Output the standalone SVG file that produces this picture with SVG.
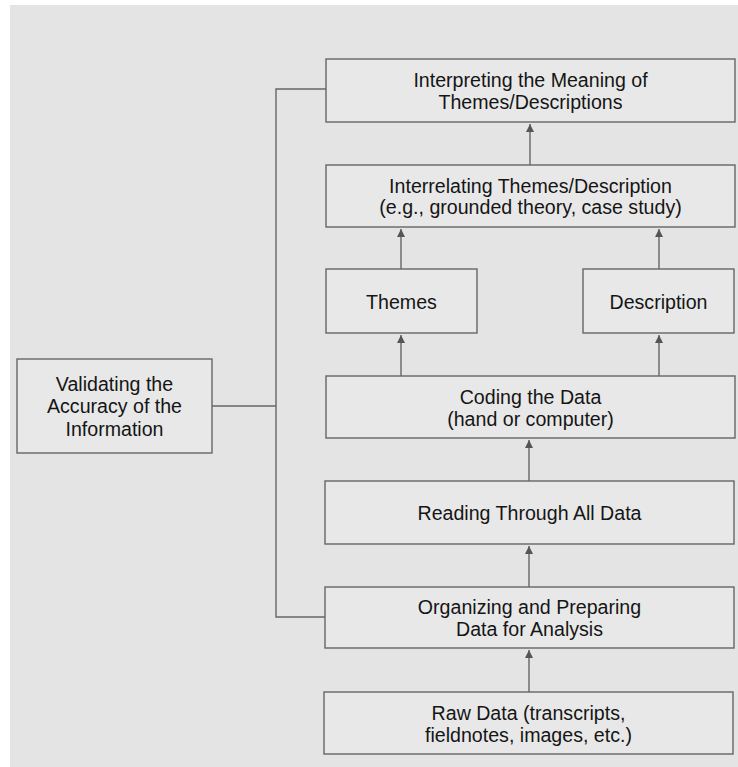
<svg xmlns="http://www.w3.org/2000/svg" width="738" height="767" viewBox="0 0 738 767">
  <style>
    .box { fill: #e8e8e8; stroke: #666666; stroke-width: 1.4; }
    .lbl { font-family: "Liberation Sans", Arial, sans-serif; font-size: 19.6px; fill: #151515; text-anchor: middle; }
    .conn { stroke: #666666; stroke-width: 1.4; fill: none; }
  </style>
  <defs>
    <marker id="arr" markerUnits="userSpaceOnUse" markerWidth="8" markerHeight="8" refX="8" refY="4" orient="auto">
      <path d="M0,0 L8,4 L0,8 z" fill="#555555"/>
    </marker>
  </defs>
  <rect x="0" y="0" width="738" height="767" fill="#ffffff"/>
  <rect x="10" y="5" width="728" height="762" fill="#e4e4e4"/>

  <g id="connectors">
    <polyline class="conn" points="326,89 276,89 276,617 325,617"/>
    <line class="conn" x1="212" y1="406" x2="276" y2="406"/>
    <line class="conn" x1="530" y1="165" x2="530" y2="124" marker-end="url(#arr)"/>
    <line class="conn" x1="401" y1="269" x2="401" y2="229" marker-end="url(#arr)"/>
    <line class="conn" x1="659" y1="269" x2="659" y2="229" marker-end="url(#arr)"/>
    <line class="conn" x1="401" y1="376" x2="401" y2="335" marker-end="url(#arr)"/>
    <line class="conn" x1="659" y1="376" x2="659" y2="335" marker-end="url(#arr)"/>
    <line class="conn" x1="529" y1="481" x2="529" y2="440" marker-end="url(#arr)"/>
    <line class="conn" x1="529" y1="587" x2="529" y2="546" marker-end="url(#arr)"/>
    <line class="conn" x1="529" y1="692" x2="529" y2="650" marker-end="url(#arr)"/>
  </g>

  <g id="interpreting">
    <rect class="box" x="326" y="59" width="409" height="63"/>
    <text class="lbl" x="530.5" y="86.5">Interpreting the Meaning of</text>
    <text class="lbl" x="530.5" y="108.5">Themes/Descriptions</text>
  </g>
  <g id="interrelating">
    <rect class="box" x="326" y="165" width="409" height="62"/>
    <text class="lbl" x="530.5" y="193">Interrelating Themes/Description</text>
    <text class="lbl" x="530.5" y="214">(e.g., grounded theory, case study)</text>
  </g>
  <g id="themes">
    <rect class="box" x="326" y="269" width="151" height="64"/>
    <text class="lbl" x="401.5" y="308.5">Themes</text>
  </g>
  <g id="description">
    <rect class="box" x="583" y="269" width="151" height="64"/>
    <text class="lbl" x="658.5" y="308.5">Description</text>
  </g>
  <g id="coding">
    <rect class="box" x="326" y="376" width="409" height="62"/>
    <text class="lbl" x="530.5" y="403.5">Coding the Data</text>
    <text class="lbl" x="530.5" y="425.5">(hand or computer)</text>
  </g>
  <g id="reading">
    <rect class="box" x="325" y="481" width="409" height="63"/>
    <text class="lbl" x="529.5" y="520">Reading Through All Data</text>
  </g>
  <g id="organizing">
    <rect class="box" x="325" y="587" width="409" height="61"/>
    <text class="lbl" x="529.5" y="614">Organizing and Preparing</text>
    <text class="lbl" x="529.5" y="636">Data for Analysis</text>
  </g>
  <g id="rawdata">
    <rect class="box" x="324" y="692" width="409" height="62"/>
    <text class="lbl" x="528.5" y="720">Raw Data (transcripts,</text>
    <text class="lbl" x="528.5" y="741.5">fieldnotes, images, etc.)</text>
  </g>
  <g id="validating">
    <rect class="box" x="17" y="359" width="195" height="94"/>
    <text class="lbl" x="114.5" y="391">Validating the</text>
    <text class="lbl" x="114.5" y="413.3">Accuracy of the</text>
    <text class="lbl" x="114.5" y="435.7">Information</text>
  </g>
</svg>
